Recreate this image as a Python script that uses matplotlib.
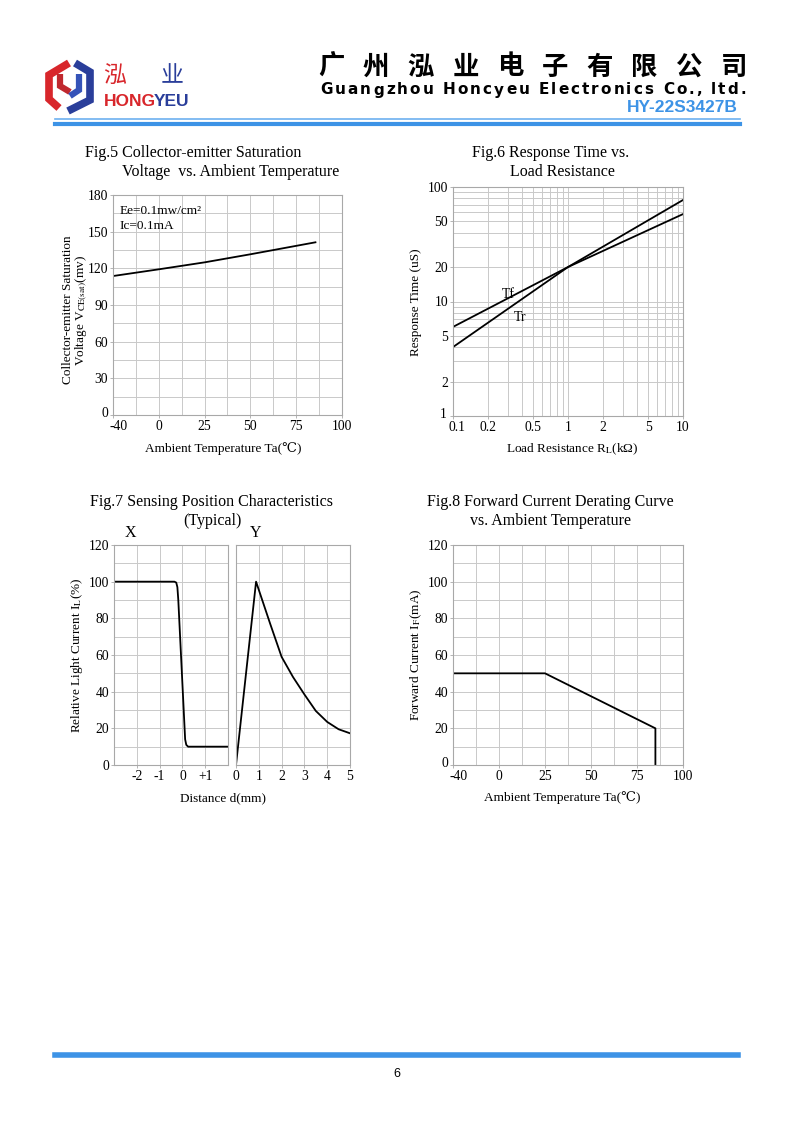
import numpy as np
import matplotlib
matplotlib.use('Agg')
import matplotlib.pyplot as plt
import matplotlib.transforms as mtransforms
from matplotlib.ticker import FixedLocator, NullFormatter
from matplotlib.lines import Line2D

plt.rcParams['font.family'] = ['Liberation Serif', 'DejaVu Serif']
plt.rcParams['mathtext.fontset'] = 'stix'

W, H = 794, 1123

# ---- data ----
# Fig.5 VCE(sat) vs temperature
f5_temp = [-40, 0, 25, 50, 75, 85.5]
f5_vce = [113.7, 119.2, 124.9, 131.5, 138.4, 141.3]

# Fig.6 response time vs load resistance
f6_rl = [0.1, 1, 10]
f6_tr = [4.0, 20, 77]
f6_tf = [6.0, 20, 58]

# Fig.7 sensing position
f7x_d = [-3, -0.35, -0.27, -0.22, -0.18, 0.12, 0.17, 0.25, 2]
f7x_il = [100, 100, 99.5, 97, 90, 14, 11, 10, 10]
f7y_d = [0, 0.88, 1.5, 2, 2.5, 3, 3.5, 4, 4.5, 5]
f7y_il = [0, 100, 77, 59, 48, 38.5, 29.5, 23.5, 19.5, 17.3]

# Fig.8 forward current derating
f8_temp = [-40, 25, 85, 85]
f8_if = [50, 50, 20, 0]

temp_ticks = [-40, 0, 25, 50, 75, 100]
temp_minor = [-20, 12.5, 37.5, 62.5, 87.5]
log_ticks = [0.1, 0.2, 0.5, 1, 2, 5, 10]
log_ticks_y = [1, 2, 5, 10, 20, 50, 100]

GRID = '#c9c9c9'
BLUE = '#3d93e6'


def fx(x, y):
    return x / W, 1 - y / H


def ax_rect(l, t, r, b):
    return [l / W, 1 - b / H, (r - l) / W, (b - t) / H]


def fwd(x):
    x = np.asarray(x, dtype=float)
    return np.where(x < 0, x * 0.625, x)


def inv(x):
    x = np.asarray(x, dtype=float)
    return np.where(x < 0, x / 0.625, x)


def style(ax):
    for s in ax.spines.values():
        s.set_color('#a8a8a8')
        s.set_linewidth(0.8)
    ax.tick_params(which='both', length=2.5, width=0.6, color='#a8a8a8',
                   labelsize=9.8, pad=1)
    ax.tick_params(which='minor', length=0)
    ax.grid(True, which='both', color=GRID, linewidth=0.7)
    ax.set_axisbelow(True)


def temp_axis(ax):
    ax.set_xscale('function', functions=(fwd, inv))
    ax.set_xlim(-40, 100)
    ax.xaxis.set_major_locator(FixedLocator(temp_ticks))
    ax.xaxis.set_minor_locator(FixedLocator(temp_minor))
    ax.set_xticklabels([str(t) for t in temp_ticks])
    ax.xaxis.set_minor_formatter(NullFormatter())


def nudge(label, dx, dy):
    # shift a corner tick label by dx, dy points
    off = mtransforms.ScaledTranslation(dx / 72, dy / 72, fig.dpi_scale_trans)
    label.set_transform(label.get_transform() + off)


def polyline(pts, color, lw):
    fig.add_artist(Line2D([p[0] / W for p in pts], [1 - p[1] / H for p in pts],
                          color=color, lw=lw, solid_joinstyle='miter',
                          solid_capstyle='butt'))


fig = plt.figure(figsize=(W / 100, H / 100), dpi=100)

# ---- header / footer rules ----
fig.add_artist(Line2D([55 / W, 740 / W], [1 - 119 / H] * 2, color='#6db0f0', lw=1.2))
fig.add_artist(Line2D([55 / W, 740 / W], [1 - 123.5 / H] * 2, color=BLUE, lw=3.0))
fig.add_artist(Line2D([55 / W, 738 / W], [1 - 1055 / H] * 2, color=BLUE, lw=4.0))

# logo shape
polyline([(69, 63), (49, 75), (49, 99), (59, 108)], '#d8262b', 5.5)
polyline([(60, 74), (60, 86), (70, 92)], '#c0282e', 4.5)
polyline([(75, 63), (90, 72), (90, 100), (68, 111)], '#2a3e9a', 5.5)
polyline([(79, 74), (79, 90), (70, 96)], '#3553b8', 4.5)

cjk = ['Noto Sans CJK SC', 'DejaVu Sans']
fig.text(*fx(115, 76), '泓', family=cjk, fontsize=16.5, color='#d8262b',
         ha='center', va='center')
fig.text(*fx(172, 76), '业', family=cjk, fontsize=16.5, color='#2a3e9a',
         ha='center', va='center')
fig.text(*fx(104, 102), 'HONG', family=['Liberation Sans'], fontsize=12.5,
         fontweight='bold', color='#d8262b', ha='left', va='center')
fig.text(*fx(154, 102), 'YEU', family=['Liberation Sans'], fontsize=12.5,
         fontweight='bold', color='#2a3e9a', ha='left', va='center')

title_cn = '广州泓业电子有限公司'
for i, ch in enumerate(title_cn):
    fig.text(*fx(331 + i * 44.8, 67), ch, family=cjk, fontsize=19,
             fontweight='bold', ha='center', va='center')

fig.canvas.draw()
renderer = fig.canvas.get_renderer()
eng = 'Guangzhou Honcyeu Electronics Co., ltd.'
xpos = 320
for ch in eng:
    t = fig.text(*fx(xpos, 90), ch, family=['DejaVu Sans'], fontsize=11,
                 fontweight='bold', ha='left', va='center')
    w = t.get_window_extent(renderer).width if ch != ' ' else 5
    xpos += w + 2.1

fig.text(*fx(738, 108), 'HY-22S3427B', family=['Liberation Sans'], fontsize=12.5,
         fontweight='bold', color=BLUE, ha='right', va='center')

fig.text(*fx(397, 1074), '6', family=['Liberation Sans'], fontsize=9,
         ha='center', va='center')

TS = 11.5
LS = 9.5

# ---- Fig.5 ----
ax5 = fig.add_axes(ax_rect(113, 195, 342, 415))
style(ax5)
temp_axis(ax5)
ax5.set_ylim(0, 180)
ax5.yaxis.set_major_locator(FixedLocator([0, 30, 60, 90, 120, 150, 180]))
ax5.yaxis.set_minor_locator(FixedLocator([15, 45, 75, 105, 135, 165]))
ax5.plot(f5_temp, f5_vce, color='black', lw=1.3)
ax5.text(0.03, 0.955, 'Ee=0.1mw/cm²', transform=ax5.transAxes, fontsize=9.5,
         va='top', ha='left')
ax5.text(0.03, 0.885, 'Ic=0.1mA', transform=ax5.transAxes, fontsize=9.5,
         va='top', ha='left')
nudge(ax5.get_xticklabels()[0], 4, 0)
nudge(ax5.get_yticklabels()[0], 0, 2)
fig.text(*fx(85, 153), 'Fig.5 Collector-emitter Saturation', fontsize=TS,
         ha='left', va='center')
fig.text(*fx(122, 172), 'Voltage  vs. Ambient Temperature', fontsize=TS,
         ha='left', va='center')
fig.text(*fx(68, 310), 'Collector-emitter Saturation', fontsize=LS,
         rotation=90, ha='center', va='center')
fig.text(*fx(81, 310), r'Voltage V$_{\mathrm{CE(sat)}}$(mv)', fontsize=LS,
         rotation=90, ha='center', va='center')
fig.text(*fx(223, 449), 'Ambient Temperature Ta(℃)', fontsize=LS,
         ha='center', va='center')

# ---- Fig.6 ----
ax6 = fig.add_axes(ax_rect(453, 187, 683, 416))
ax6.set_xscale('log')
ax6.set_yscale('log')
style(ax6)
ax6.set_xlim(0.1, 10)
ax6.set_ylim(1, 100)
ax6.xaxis.set_major_locator(FixedLocator(log_ticks))
ax6.set_xticklabels([('%g' % v) for v in log_ticks])
ax6.yaxis.set_major_locator(FixedLocator(log_ticks_y))
ax6.set_yticklabels([('%g' % v) for v in log_ticks_y])
ax6.xaxis.set_minor_formatter(NullFormatter())
ax6.yaxis.set_minor_formatter(NullFormatter())
ax6.plot(f6_rl, f6_tr, color='black', lw=1.3)
ax6.plot(f6_rl, f6_tf, color='black', lw=1.3)
ax6.text(0.265, 11.5, 'Tf', fontsize=10, ha='left', va='center')
ax6.text(0.335, 7.2, 'Tr', fontsize=10, ha='left', va='center')
nudge(ax6.get_xticklabels()[0], 3, 0)
nudge(ax6.get_yticklabels()[0], -1, 2.5)
fig.text(*fx(551, 153), 'Fig.6 Response Time vs.', fontsize=TS,
         ha='center', va='center')
fig.text(*fx(562, 172), 'Load Resistance', fontsize=TS, ha='center', va='center')
fig.text(*fx(416, 302), 'Response Time (uS)', fontsize=LS, rotation=90,
         ha='center', va='center')
fig.text(*fx(572, 449), r'Load Resistance R$_{\mathrm{L}}$(kΩ)', fontsize=LS,
         ha='center', va='center')

# ---- Fig.7 ----
ax7a = fig.add_axes(ax_rect(114, 545, 228, 765))
style(ax7a)
ax7a.set_xlim(-3, 2)
ax7a.set_ylim(0, 120)
ax7a.xaxis.set_major_locator(FixedLocator([-2, -1, 0, 1]))
ax7a.set_xticklabels(['-2', '-1', '0', '+1'])
ax7a.yaxis.set_major_locator(FixedLocator([0, 20, 40, 60, 80, 100, 120]))
ax7a.yaxis.set_minor_locator(FixedLocator([10, 30, 50, 70, 90, 110]))
ax7a.plot(f7x_d, f7x_il, color='black', lw=1.3)

ax7b = fig.add_axes(ax_rect(236, 545, 350, 765))
style(ax7b)
ax7b.set_xlim(0, 5)
ax7b.set_ylim(0, 120)
ax7b.xaxis.set_major_locator(FixedLocator([0, 1, 2, 3, 4, 5]))
ax7b.yaxis.set_major_locator(FixedLocator([0, 20, 40, 60, 80, 100, 120]))
ax7b.yaxis.set_minor_locator(FixedLocator([10, 30, 50, 70, 90, 110]))
ax7b.tick_params(axis='y', labelleft=False, length=0)
ax7b.plot(f7y_d, f7y_il, color='black', lw=1.3)

fig.text(*fx(212, 502), 'Fig.7 Sensing Position Characteristics', fontsize=TS,
         ha='center', va='center')
fig.text(*fx(212, 521), '(Typical)', fontsize=TS, ha='center', va='center')
fig.text(*fx(130, 533), 'X', fontsize=TS, ha='center', va='center')
fig.text(*fx(256, 533), 'Y', fontsize=TS, ha='center', va='center')
fig.text(*fx(77, 655), r'Relative Light Current I$_{\mathrm{L}}$(%)', fontsize=LS,
         rotation=90, ha='center', va='center')
fig.text(*fx(223, 798), 'Distance d(mm)', fontsize=LS, ha='center', va='center')

# ---- Fig.8 ----
ax8 = fig.add_axes(ax_rect(453, 545, 683, 765))
style(ax8)
temp_axis(ax8)
ax8.set_ylim(0, 120)
ax8.yaxis.set_major_locator(FixedLocator([0, 20, 40, 60, 80, 100, 120]))
ax8.yaxis.set_minor_locator(FixedLocator([10, 30, 50, 70, 90, 110]))
ax8.plot(f8_temp, f8_if, color='black', lw=1.3)
nudge(ax8.get_xticklabels()[0], 4, 0)
nudge(ax8.get_yticklabels()[0], 0, 2)
fig.text(*fx(550, 502), 'Fig.8 Forward Current Derating Curve', fontsize=TS,
         ha='center', va='center')
fig.text(*fx(551, 521), 'vs. Ambient Temperature', fontsize=TS,
         ha='center', va='center')
fig.text(*fx(416, 655), r'Forward Current I$_{\mathrm{F}}$(mA)', fontsize=LS,
         rotation=90, ha='center', va='center')
fig.text(*fx(562, 798), 'Ambient Temperature Ta(℃)', fontsize=LS,
         ha='center', va='center')

fig.savefig('out.png', dpi=100)
